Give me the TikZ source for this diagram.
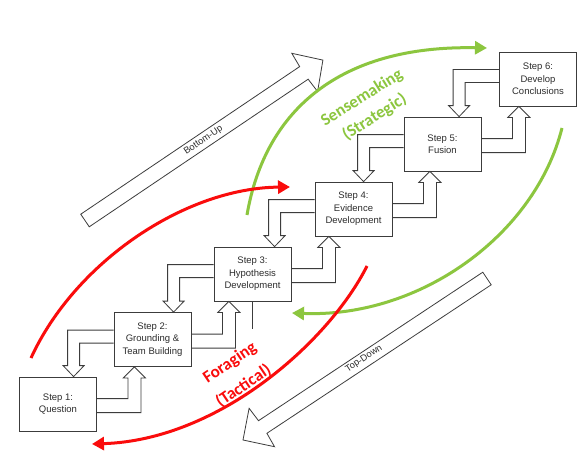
\documentclass[tikz,border=0pt]{standalone}
\usepackage{fontspec}
\setmainfont{Liberation Sans}
\newfontfamily\calib{Carlito}
\usetikzlibrary{arrows.meta,calc}
\definecolor{sgreen}{RGB}{140,198,63}
\definecolor{fred}{RGB}{250,12,12}
\definecolor{boxline}{RGB}{60,60,60}
\definecolor{txt}{RGB}{45,45,45}
% down connector: #1 upper box, #2 lower box
\newcommand\dnconn[2]{%
\draw[conn] let \p1=(#1.north west), \p2=(#2.north west) in
 (\x1,\y1-18pt) -- (\x1-46pt,\y1-18pt) -- (\x1-46pt,\y2+11pt) -- (\x1-50.5pt,\y2+11pt)
 -- (\x1-40pt,\y2) -- (\x1-29.5pt,\y2+11pt) -- (\x1-34pt,\y2+11pt) -- (\x1-34pt,\y1-31pt) -- (\x1,\y1-31pt);}
% up connector: #1 lower box, #2 upper box
\newcommand\upconn[2]{%
\draw[conn] let \p1=(#1.north east), \p2=(#2.south east) in
 (\x1,\y1-22pt) -- (\x1+31pt,\y1-22pt) -- (\x1+31pt,\y2-11pt) -- (\x1+26.5pt,\y2-11pt)
 -- (\x1+37.5pt,\y2) -- (\x1+48.5pt,\y2-11pt) -- (\x1+44pt,\y2-11pt) -- (\x1+44pt,\y1-36pt) -- (\x1,\y1-36pt);}
\begin{document}
\begin{tikzpicture}[x=1pt,y=-1pt,
 stepbox/.style={draw=boxline,line width=0.8pt,fill=white,minimum width=77pt,minimum height=54pt,
   inner sep=0pt,align=center,font=\fontsize{9.5}{12.5}\selectfont,text=txt},
 conn/.style={draw=boxline,line width=0.8pt,line join=miter},
 bigarr/.style={draw=boxline,line width=0.8pt,line join=miter},
 arrlabel/.style={font=\fontsize{9.3}{11}\selectfont,text=txt,inner sep=0pt},
 curvearr/.style={line width=3pt,-{Triangle[length=12pt,width=13pt]}},
 bigtext/.style={font=\calib\bfseries\fontsize{17}{20}\selectfont,inner sep=0pt}]
\useasboundingbox (0,0) rectangle (584,452);
\fill[white] (0,0) rectangle (584,452);

% big hollow arrows
\draw[bigarr] (80.75,214.2) -- (299.65,66.6) -- (291.8,53.3) -- (322.9,60.1)
   -- (317.6,91.5) -- (308.15,79.2) -- (89.25,226.8) -- cycle;
\node[arrlabel,rotate=34] (bu) at (203.5,140.5) {Bottom-Up};
\draw[bigarr] (482.8,272.2) -- (258.5,420.7) -- (249.1,408.3) -- (243,440)
   -- (274.5,446.7) -- (266.9,433.3) -- (491.2,284.8) -- cycle;
\node[arrlabel,rotate=33.5] (td) at (364,359) {Top-Down};

% curves
\coordinate (r1a) at (31,358);  \coordinate (r1b) at (290,187);
\coordinate (r2a) at (367,266); \coordinate (r2b) at (92,444);
\coordinate (g1a) at (247,215); \coordinate (g1b) at (487,48);
\coordinate (g2a) at (562,128); \coordinate (g2b) at (292,313);
\draw[curvearr,sgreen] (g1a) .. controls (265,110) and (340,45) .. (g1b);
\draw[curvearr,sgreen] (g2a) .. controls (535,235) and (420,318) .. (g2b);
\draw[curvearr,fred] (r1a) .. controls (75,262) and (185,188) .. (r1b);
\draw[curvearr,fred] (r2a) .. controls (330,340) and (220,440) .. (r2b);

\node[bigtext,text=sgreen,rotate=32] (sense1) at (362,98) {Sensemaking};
\node[bigtext,text=sgreen,rotate=32] (sense2) at (374.5,117) {(Strategic)};
\node[bigtext,text=fred,rotate=34] (forage1) at (230,363) {Foraging};
\node[bigtext,text=fred,rotate=34] (forage2) at (243.5,386) {(Tactical)};

% step boxes
\node[stepbox] (s1) at (58,404)     {Step 1:\\Question};
\node[stepbox] (s2) at (152.5,339.5) {Step 2:\\Grounding \&\\Team Building};
\node[stepbox] (s3) at (252.5,274)  {Step 3:\\Hypothesis\\Development};
\node[stepbox] (s4) at (353.5,209)  {Step 4:\\Evidence\\Development};
\node[stepbox] (s5) at (442.5,144)  {Step 5:\\Fusion};
\node[stepbox] (s6) at (538,79)     {Step 6:\\Develop\\Conclusions};

% connectors
\dnconn{s2}{s1} \upconn{s1}{s2}
\dnconn{s3}{s2} \upconn{s2}{s3}
\dnconn{s4}{s3} \upconn{s3}{s4}
\dnconn{s5}{s4} \upconn{s4}{s5}
\dnconn{s6}{s5} \upconn{s5}{s6}
\coordinate (s3tail) at (252.5,329);
\draw[conn] (s3.south) -- (s3tail);
\end{tikzpicture}
\end{document}
